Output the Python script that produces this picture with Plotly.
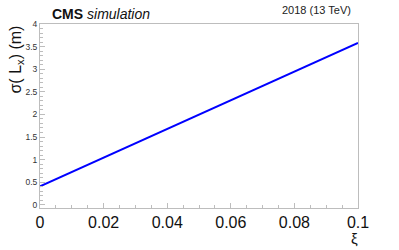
import plotly.graph_objects as go

xi = [0.0, 0.02, 0.04, 0.06, 0.08, 0.1]
sigma_Lx = [0.41, 1.045, 1.68, 2.31, 2.945, 3.58]

x_ticks = [0, 0.02, 0.04, 0.06, 0.08, 0.1]
x_labels = ["0", "0.02", "0.04", "0.06", "0.08", "0.1"]
y_ticks = [0, 0.5, 1, 1.5, 2, 2.5, 3, 3.5, 4]
y_labels = ["0", "0.5", "1", "1.5", "2", "2.5", "3", "3.5", "4"]

fig = go.Figure()
fig.add_trace(go.Scatter(x=xi, y=sigma_Lx, mode="lines",
                         line=dict(color="#0000ff", width=2)))

axcol = "#bdbdbd"
fig.update_layout(
    width=399, height=250,
    margin=dict(l=40, r=41, t=24, b=42),
    paper_bgcolor="white", plot_bgcolor="white",
    showlegend=False,
    font=dict(family="Liberation Sans, Arial, sans-serif", color="#222"),
    xaxis=dict(range=[0, 0.1], tickvals=x_ticks, ticktext=x_labels,
               ticks="inside", ticklen=5, tickcolor=axcol, automargin=False,
               minor=dict(dtick=0.005, ticks="inside", ticklen=3, tickcolor=axcol),
               showline=True, linecolor=axcol, mirror=True, linewidth=1,
               showgrid=False, zeroline=False,
               tickfont=dict(size=16, color="#111")),
    yaxis=dict(range=[-0.07, 4.0], tickvals=y_ticks, ticktext=y_labels,
               ticks="inside", ticklen=5, tickcolor=axcol, automargin=False,
               minor=dict(dtick=0.1, ticks="inside", ticklen=3, tickcolor=axcol),
               showline=True, linecolor=axcol, mirror=True, linewidth=1,
               showgrid=False, zeroline=False,
               tickfont=dict(size=8.5, color="#333")),
    annotations=[
        dict(text="<b>CMS</b> <i>simulation</i>", x=0.03, y=1.0, xref="paper", yref="paper",
             xanchor="left", yanchor="bottom", showarrow=False,
             font=dict(size=14, color="#111")),
        dict(text="σ( L<sub>x</sub>) (m)", xref="paper", yref="paper", x=-0.077, y=1.0,
             xanchor="center", yanchor="top", textangle=-90, showarrow=False,
             font=dict(size=16, color="#111")),
        dict(text="ξ", xref="paper", yref="paper", x=0.99, y=-0.11, xanchor="center",
             yanchor="top", showarrow=False, font=dict(size=15, color="#111")),
        dict(text="2018 (13 TeV)", xref="paper", yref="paper", x=0.985, y=1.03,
             xanchor="right", yanchor="bottom", showarrow=False,
             font=dict(size=11, color="#222")),
    ],
)
fig.write_html("out.html", config={"displayModeBar": False},
               post_script="document.body.style.margin='0';")
